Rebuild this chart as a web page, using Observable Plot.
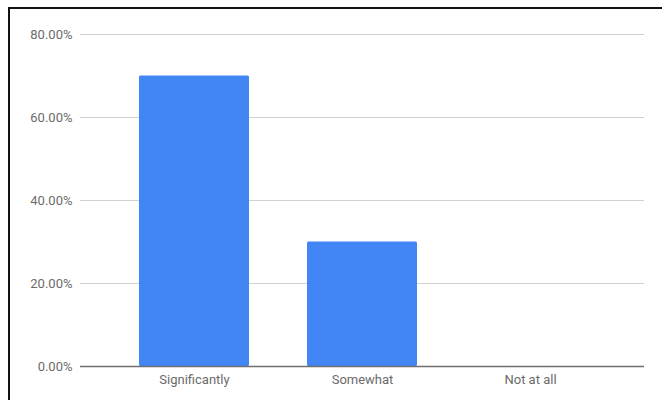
<!DOCTYPE html>
<html>
<head>
<meta charset="utf-8">
<script src="https://cdn.jsdelivr.net/npm/d3@7"></script>
<script src="https://cdn.jsdelivr.net/npm/@observablehq/plot@0.6"></script>
<style>
  html, body { margin: 0; padding: 0; background: #fff; }
  #wrap { position: relative; width: 662px; height: 400px; overflow: hidden; }
  #frame { position: absolute; left: 8px; top: 7px; width: 660px; height: 400px;
           border-top: 2px solid #111; border-left: 2px solid #111; box-sizing: border-box; }
  #chart { position: absolute; left: 0; top: 0; }
</style>
</head>
<body>
<div id="wrap">
  <div id="chart"></div>
  <div id="frame"></div>
</div>
<script>
const categories = ["Significantly", "Somewhat", "Not at all"];
const values = [0.70, 0.30, 0.0];
const yTicks = [0, 0.2, 0.4, 0.6, 0.8];

const data = categories.map((c, i) => ({category: c, value: values[i]}));

const chart = Plot.plot({
  width: 662,
  height: 400,
  marginTop: 34,
  marginBottom: 34,
  marginLeft: 80,
  marginRight: 18,
  style: {fontFamily: "Roboto, 'Noto Sans', sans-serif", fontSize: "13px", color: "#6b6b6b", background: "transparent"},
  x: {domain: categories, padding: 0.345, label: null},
  y: {domain: [0, 0.8], label: null},
  marks: [
    Plot.ruleY(yTicks.filter(d => d > 0), {stroke: "#d0d0d0", strokeWidth: 1}),
    Plot.barY(data, {x: "category", y: "value", fill: "#4285F4", rx: 1.5}),
    Plot.ruleY([0], {stroke: "#6e6e6e", strokeWidth: 1.5}),
    Plot.axisY({ticks: yTicks, tickFormat: d => (d * 100).toFixed(2) + "%", tickSize: 0, tickPadding: 8, fill: "#6b6b6b", fontSize: 13}),
    Plot.axisX({tickSize: 0, tickPadding: 8, fill: "#6b6b6b", fontSize: 13})
  ]
});
document.getElementById("chart").appendChild(chart);
</script>
</body>
</html>
